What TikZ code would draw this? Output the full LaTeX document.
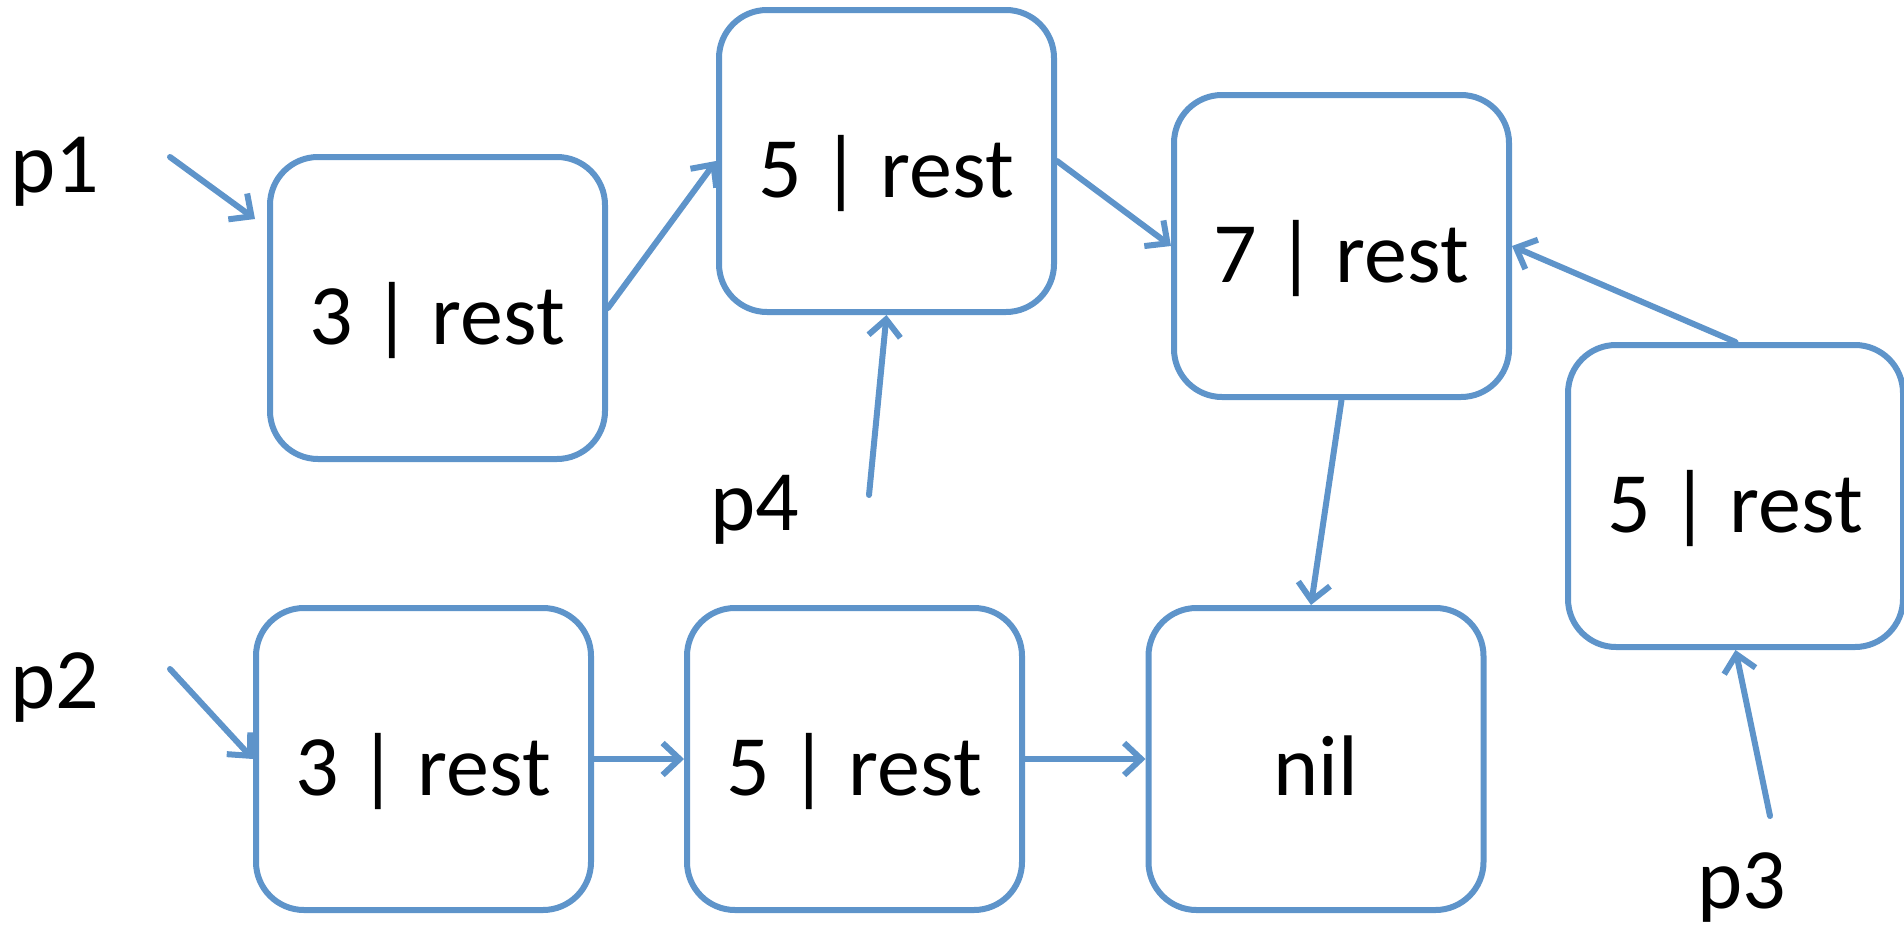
\documentclass[tikz,border=0pt]{standalone}
\usepackage{fontspec}
\setmainfont{Carlito}
\usetikzlibrary{arrows.meta}
\definecolor{boxblue}{RGB}{94,148,202}
\begin{document}
\begin{tikzpicture}[x=1pt,y=-1pt,
  cell/.style={draw=boxblue, line width=6pt, rounded corners=48pt, fill=white,
    minimum width=335pt, minimum height=302pt, inner sep=0pt,
    text height=90pt, text depth=18pt,
    font=\fontsize{86}{100}\selectfont},
  lbl/.style={font=\fontsize{86}{100}\selectfont, inner sep=0pt},
  link/.style={draw=boxblue, line width=6pt, line cap=round,
    -{Straight Barb[length=17pt,width=32pt,line width=6pt]}}]
\useasboundingbox (0,0) rectangle (1904,929);
\node[cell] (A1) at (437.5,308) {3 | rest};
\node[cell] (B1) at (886.5,161) {5 | rest};
\node[cell] (C1) at (1341.5,246) {7 | rest};
\node[cell] (D)  at (1735.5,496) {5 | rest};
\node[cell] (A2) at (423.5,759) {3 | rest};
\node[cell] (B2) at (854.5,759) {5 | rest};
\node[cell] (N)  at (1316,759) {nil};
\node[lbl] (p1) at (55,172) {p1};
\node[lbl] (p2) at (55,688) {p2};
\node[lbl] (p4) at (755,510) {p4};
\node[lbl] (p3) at (1742,888) {p3};
\coordinate (p1s) at (170,157);
\coordinate (p1e) at (255,219);
\coordinate (p2s) at (170,669);
\coordinate (p4s) at (869,495);
\coordinate (p3s) at (1770,816);
\draw[link] (p1s) -- (p1e);
\draw[link] (p2s) -- (A2.west);
\draw[link] (A1.east) -- (B1.west);
\draw[link] (B1.east) -- (C1.west);
\draw[link] (p4s) -- (B1.south);
\draw[link] (D.north) -- (C1.east);
\draw[link] (C1.south) -- ([xshift=-5pt]N.north);
\draw[link] (p3s) -- (D.south);
\draw[link] (A2.east) -- (B2.west);
\draw[link] (B2.east) -- (N.west);
\end{tikzpicture}
\end{document}
